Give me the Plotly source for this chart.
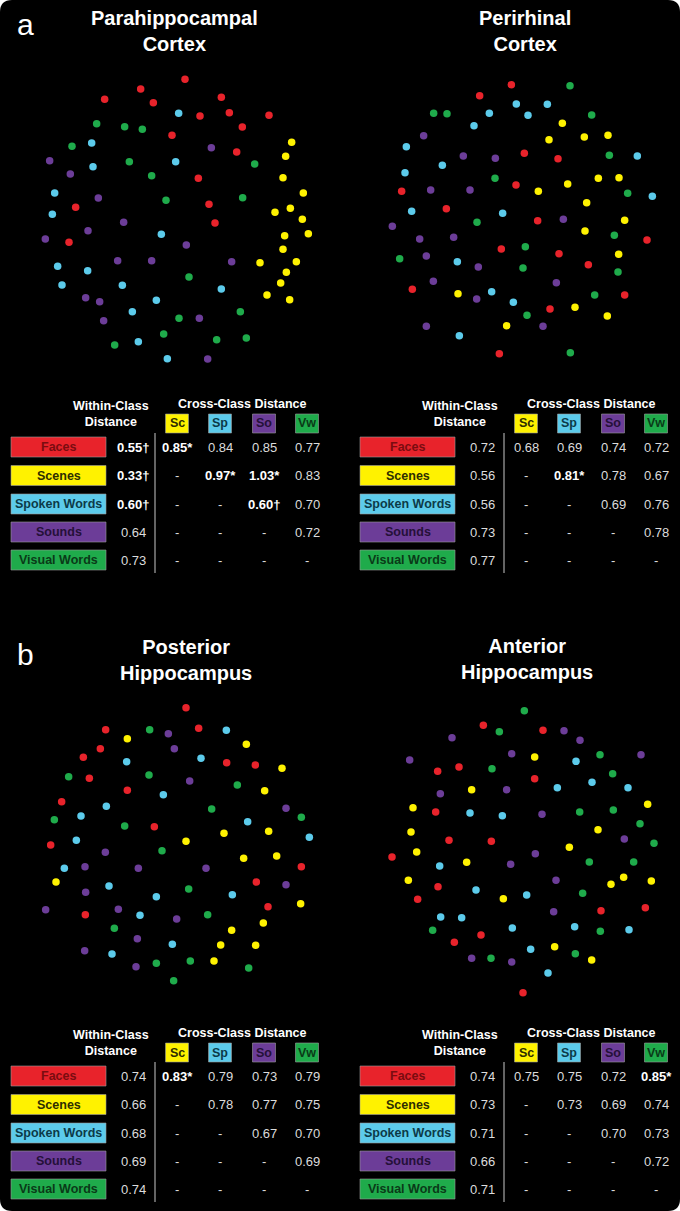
import plotly.graph_objects as go

W, H = 680, 1211
FONT = "Liberation Sans, Arial, Helvetica, sans-serif"

classes = ["Faces", "Scenes", "Spoken Words", "Sounds", "Visual Words"]
abbr = ["Sc", "Sp", "So", "Vw"]
colors = ["#e8232b", "#fff200", "#5ccbeb", "#6c3d98", "#1fab4b"]
text_colors = ["#7a0c10", "#2e2e00", "#0c3a48", "#251038", "#0a3a18"]

# ---- MDS embeddings (arbitrary units, y downward), one list per class ----
# Panel 1: Parahippocampal Cortex
phc_faces = [(465,43),(332,72),(224,103),(370,113),(574,97),(510,153),(598,143),(717,151),(637,186),(426,211),(620,261),(505,340),(537,418),(555,474),(137,427),(117,532)]
phc_scenes = [(785,232),(767,274),(759,338),(820,384),(735,442),(781,430),(817,463),(835,506),(764,512),(759,553),(690,593),(799,590),(769,622),(752,654),(711,690),(779,704)]
phc_spoken = [(446,145),(185,234),(189,305),(437,290),(74,384),(67,448),(394,508),(83,604),(173,617),(96,660),(277,661),(574,672),(379,706),(307,740),(325,830),(412,881)]
phc_sounds = [(544,248),(59,287),(121,327),(205,399),(281,472),(174,497),(46,522),(469,540),(263,587),(365,587),(605,590),(167,698),(209,710),(221,767),(508,760),(533,882)]
phc_visual = [(200,176),(284,185),(337,193),(126,244),(298,290),(365,332),(674,297),(408,406),(638,398),(477,636),(631,740),(447,760),(401,807),(560,824),(649,819),(254,840)]

# Panel 2: Perirhinal Cortex
prc_faces = [(439,44),(344,77),(478,250),(579,266),(453,345),(110,364),(244,416),(518,452),(409,537),(582,551),(846,510),(670,584),(142,658),(779,675),(555,717),(403,851)]
prc_scenes = [(592,160),(552,209),(658,201),(729,196),(700,325),(762,323),(608,342),(520,364),(665,398),(779,451),(660,483),(761,553),(279,671),(630,712),(727,738),(425,767)]
prc_spoken = [(454,102),(547,103),(373,130),(489,136),(327,167),(124,230),(817,258),(232,286),(120,308),(862,379),(140,424),(413,430),(277,575),(380,665),(445,697),(283,797)]
prc_sounds = [(176,197),(295,258),(391,265),(197,360),(315,360),(82,469),(595,448),(164,507),(266,502),(184,558),(340,591),(205,634),(574,638),(335,687),(184,769),(534,769)]
prc_visual = [(615,47),(206,130),(246,131),(680,135),(733,256),(390,325),(788,370),(336,457),(748,496),(481,530),(104,566),(474,594),(759,606),(689,675),(486,736),(616,848)]

# Panel 3: Posterior Hippocampus
php_faces = [(468,38),(227,104),(506,100),(211,161),(160,187),(178,250),(590,203),(676,210),(292,286),(95,320),(373,395),(62,450),(814,515),(679,561),(714,635),(166,659)]
php_scenes = [(292,131),(649,148),(756,220),(704,287),(582,415),(716,409),(468,439),(641,490),(740,483),(78,561),(812,626),(700,684),(605,706),(572,750),(677,751),(552,798)]
php_spoken = [(589,106),(513,190),(290,200),(400,299),(229,334),(153,363),(653,380),(838,427),(139,436),(103,520),(237,573),(379,605),(607,599),(330,661),(427,748),(246,777)]
php_sounds = [(415,116),(433,161),(479,258),(768,340),(226,472),(165,515),(325,520),(528,520),(768,569),(167,592),(47,644),(265,643),(440,672),(322,731),(164,767),(318,815)]
php_visual = [(359,104),(116,245),(357,240),(622,270),(545,342),(73,374),(284,393),(814,367),(396,467),(476,582),(533,659),(253,700),(379,805),(481,798),(656,819),(431,857)]

# Panel 4: Anterior Hippocampus
ahp_faces = [(325,76),(504,91),(188,214),(252,201),(479,236),(182,336),(222,421),(349,424),(51,471),(189,560),(128,598),(678,632),(811,623),(318,705),(238,727),(444,878)]
ahp_scenes = [(479,171),(290,269),(114,323),(818,313),(108,396),(669,389),(125,456),(583,442),(275,487),(100,541),(708,553),(746,532),(829,543),(385,596),(539,740),(650,780)]
ahp_spoken = [(603,184),(651,247),(547,263),(759,263),(285,339),(382,347),(194,498),(303,570),(455,585),(197,651),(260,653),(412,684),(599,680),(762,689),(467,748),(519,819)]
ahp_sounds = [(231,113),(567,92),(615,121),(410,161),(798,164),(104,180),(196,281),(395,269),(501,343),(748,417),(481,461),(407,493),(543,541),(536,635),(290,775),(410,786)]
ahp_visual = [(448,32),(373,95),(675,164),(351,206),(713,221),(614,336),(715,330),(795,371),(837,430),(643,486),(776,486),(623,580),(676,694),(173,691),(348,775),(601,761)]

# ---- distance tables ----
phc_within = ["0.55†", "0.33†", "0.60†", "0.64", "0.73"]
phc_cross = [["0.85*", "0.84", "0.85", "0.77"],
             ["-", "0.97*", "1.03*", "0.83"],
             ["-", "-", "0.60†", "0.70"],
             ["-", "-", "-", "0.72"],
             ["-", "-", "-", "-"]]
prc_within = ["0.72", "0.56", "0.56", "0.73", "0.77"]
prc_cross = [["0.68", "0.69", "0.74", "0.72"],
             ["-", "0.81*", "0.78", "0.67"],
             ["-", "-", "0.69", "0.76"],
             ["-", "-", "-", "0.78"],
             ["-", "-", "-", "-"]]
php_within = ["0.74", "0.66", "0.68", "0.69", "0.74"]
php_cross = [["0.83*", "0.79", "0.73", "0.79"],
             ["-", "0.78", "0.77", "0.75"],
             ["-", "-", "0.67", "0.70"],
             ["-", "-", "-", "0.69"],
             ["-", "-", "-", "-"]]
ahp_within = ["0.74", "0.73", "0.71", "0.66", "0.71"]
ahp_cross = [["0.75", "0.75", "0.72", "0.85*"],
             ["-", "0.73", "0.69", "0.74"],
             ["-", "-", "0.70", "0.73"],
             ["-", "-", "-", "0.72"],
             ["-", "-", "-", "-"]]

panels = [
    dict(title="Parahippocampal<br>Cortex", tx=175, ty=31, crop=(30, 65),
         pts=[phc_faces, phc_scenes, phc_spoken, phc_sounds, phc_visual],
         within=phc_within, cross=phc_cross, tab=(0, 0)),
    dict(title="Perirhinal<br>Cortex", tx=525, ty=31, crop=(365, 70),
         pts=[prc_faces, prc_scenes, prc_spoken, prc_sounds, prc_visual],
         within=prc_within, cross=prc_cross, tab=(349, 0)),
    dict(title="Posterior<br>Hippocampus", tx=186, ty=660, crop=(30, 695),
         pts=[php_faces, php_scenes, php_spoken, php_sounds, php_visual],
         within=php_within, cross=php_cross, tab=(0, 629)),
    dict(title="Anterior<br>Hippocampus", tx=527, ty=659, crop=(375, 700),
         pts=[ahp_faces, ahp_scenes, ahp_spoken, ahp_sounds, ahp_visual],
         within=ahp_within, cross=ahp_cross, tab=(349, 629)),
]

def px(x):
    return x / W

def py(y):
    return 1 - y / H

fig = go.Figure()
annotations = []
shapes = []

# rounded black background
r = 12
rx, ry = r / W, r / H
shapes.append(dict(type="path", xref="paper", yref="paper", layer="below",
                   path=(f"M {rx},0 L {1-rx},0 Q 1,0 1,{ry} L 1,{1-ry} Q 1,1 {1-rx},1 "
                         f"L {rx},1 Q 0,1 0,{1-ry} L 0,{ry} Q 0,0 {rx},0 Z"),
                   fillcolor="black", line=dict(width=0)))

SPAN = 900  # data-unit size of each scatter panel
layout_axes = {}
for i, p in enumerate(panels):
    k = "" if i == 0 else str(i + 1)
    cx, cy = p["crop"]
    for ci, pts in enumerate(p["pts"]):
        fig.add_trace(go.Scatter(
            x=[q[0] for q in pts], y=[q[1] for q in pts], mode="markers",
            marker=dict(size=7.5, color=colors[ci], line=dict(width=0)),
            xaxis="x" + k, yaxis="y" + k, showlegend=False, hoverinfo="skip",
            name=classes[ci]))
    layout_axes["xaxis" + k] = dict(domain=[px(cx), px(cx + 300)], range=[0, SPAN],
                                    visible=False, fixedrange=True)
    layout_axes["yaxis" + k] = dict(domain=[py(cy + 300), py(cy)], range=[SPAN, 0],
                                    visible=False, fixedrange=True)

    # title
    annotations.append(dict(text="<b>" + p["title"] + "</b>", x=px(p["tx"]), y=py(p["ty"]),
                            xref="paper", yref="paper", showarrow=False,
                            font=dict(family=FONT, size=20, color="white"),
                            xanchor="center", yanchor="middle"))

    # table
    ox, oy = p["tab"]
    annotations.append(dict(text="<b>Within-Class<br>Distance</b>", x=px(111 + ox), y=py(414 + oy),
                            xref="paper", yref="paper", showarrow=False,
                            font=dict(family=FONT, size=12.5, color="white"),
                            xanchor="center", yanchor="middle"))
    annotations.append(dict(text="<b>Cross-Class Distance</b>", x=px(242 + ox), y=py(404 + oy),
                            xref="paper", yref="paper", showarrow=False,
                            font=dict(family=FONT, size=12.5, color="white"),
                            xanchor="center", yanchor="middle"))
    col_x = [177, 220, 264, 307]
    for j, a in enumerate(abbr):
        bx = col_x[j] + ox
        shapes.append(dict(type="rect", xref="paper", yref="paper",
                           x0=px(bx - 11.5), x1=px(bx + 11.5), y0=py(433 + oy), y1=py(414 + oy),
                           fillcolor=colors[j + 1], line=dict(color="#9a9a9a", width=0.6)))
        annotations.append(dict(text="<b>" + a + "</b>", x=px(bx), y=py(423.5 + oy),
                                xref="paper", yref="paper", showarrow=False,
                                font=dict(family=FONT, size=12.5, color=text_colors[j + 1]),
                                xanchor="center", yanchor="middle"))
    # vertical separator
    shapes.append(dict(type="line", xref="paper", yref="paper",
                       x0=px(155 + ox), x1=px(155 + ox), y0=py(433 + oy), y1=py(573 + oy),
                       line=dict(color="#c8c8c8", width=1)))
    row_y = [447, 475.5, 504, 532, 560]
    for ri, cname in enumerate(classes):
        yy = row_y[ri] + oy
        shapes.append(dict(type="rect", xref="paper", yref="paper",
                           x0=px(11 + ox), x1=px(106 + ox), y0=py(yy + 10), y1=py(yy - 10),
                           fillcolor=colors[ri], line=dict(color="#9a9a9a", width=0.6)))
        annotations.append(dict(text="<b>" + cname + "</b>", x=px(58.5 + ox), y=py(yy),
                                xref="paper", yref="paper", showarrow=False,
                                font=dict(family=FONT, size=12.5, color=text_colors[ri]),
                                xanchor="center", yanchor="middle"))
        vals = [p["within"][ri]] + p["cross"][ri]
        xs = [133] + col_x
        for v, vx in zip(vals, xs):
            bold = ("*" in v) or ("†" in v)
            annotations.append(dict(text=("<b>" + v + "</b>") if bold else v,
                                    x=px(vx + ox), y=py(yy),
                                    xref="paper", yref="paper", showarrow=False,
                                    font=dict(family=FONT, size=13,
                                              color="white" if bold else "#dcdcdc"),
                                    xanchor="center", yanchor="middle"))

# panel letters
for letter, ly in [("a", 24), ("b", 654)]:
    annotations.append(dict(text=letter, x=px(25), y=py(ly), xref="paper", yref="paper",
                            showarrow=False, font=dict(family=FONT, size=30, color="white"),
                            xanchor="center", yanchor="middle"))

fig.update_layout(
    width=W, height=H, margin=dict(l=0, r=0, t=0, b=0),
    paper_bgcolor="white", plot_bgcolor="rgba(0,0,0,0)",
    annotations=annotations, shapes=shapes, showlegend=False,
    **layout_axes,
)

fig.write_html("out.html", config={"displayModeBar": False},
               post_script="document.body.style.margin='0';document.body.style.padding='0';"
                           "document.body.style.overflow='hidden';")
